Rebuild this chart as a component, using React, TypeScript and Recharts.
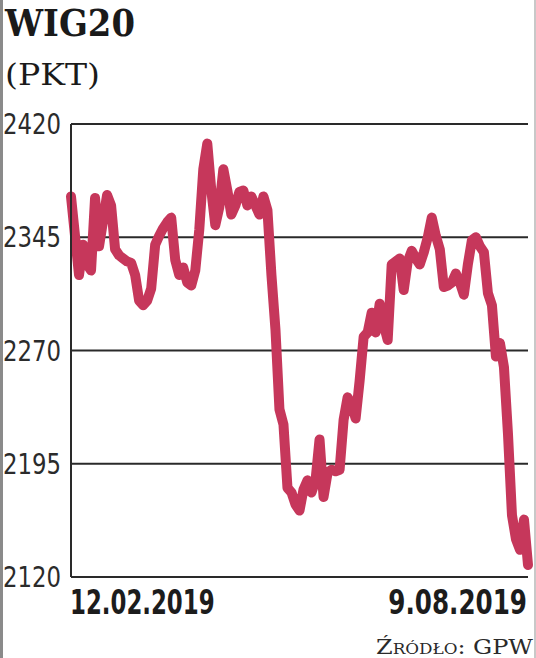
import { LineChart, Line, XAxis, YAxis, CartesianGrid } from "recharts";

document.body.style.margin = "0";

// WIG20 closing levels (pkt), sessions 12.02.2019 – 9.08.2019
const wig20 = [
  2372, 2346, 2320, 2340, 2327, 2323, 2371, 2339, 2356, 2373,
  2366, 2337, 2333, 2331, 2329, 2328, 2320, 2303, 2300, 2303,
  2311, 2340, 2346, 2351, 2355, 2358, 2330, 2320, 2325, 2315,
  2313, 2323, 2350, 2390, 2407, 2376, 2353, 2365, 2390, 2376,
  2360, 2366, 2375, 2376, 2366, 2372, 2366, 2360, 2372, 2363,
  2320, 2284, 2231, 2221, 2179, 2176, 2168, 2164, 2178, 2184,
  2176, 2184, 2211, 2173, 2189, 2191, 2190, 2191, 2224, 2239,
  2234, 2225, 2250, 2279, 2282, 2295, 2282, 2301, 2287, 2277,
  2327, 2329, 2331, 2310, 2329, 2336, 2331, 2327, 2335, 2345,
  2358, 2346, 2337, 2312, 2313, 2315, 2321, 2315, 2307, 2327,
  2343, 2345, 2339, 2335, 2308, 2300, 2266, 2275, 2259, 2215,
  2161, 2145, 2138, 2158, 2128,
];

const yTicks = [2120, 2195, 2270, 2345, 2420];
const dateLabels = ["12.02.2019", "9.08.2019"];

const data = wig20.map((v, i) => ({ i, v }));
const lastIdx = wig20.length - 1;

const YTick = (props: any) => {
  const { y, payload } = props;
  return (
    <text
      x={3}
      y={y + 10}
      textLength={58}
      lengthAdjust="spacingAndGlyphs"
      fontFamily="'DejaVu Sans Condensed', 'DejaVu Sans', sans-serif"
      fontSize={29}
      fill="#2b2b2b"
    >
      {payload.value}
    </text>
  );
};

const XTick = (props: any) => {
  const { payload } = props;
  const first = payload.value === 0;
  const label = first ? dateLabels[0] : dateLabels[1];
  const sx = first ? 0.77 : 0.83;
  return (
    <text
      transform={`translate(${first ? 70 : 527}, 614) scale(${sx}, 1)`}
      textAnchor={first ? "start" : "end"}
      fontFamily="'DejaVu Sans Condensed', 'DejaVu Sans', sans-serif"
      fontWeight={600}
      fontSize={33}
      fill="#1c1c1c"
    >
      {label}
    </text>
  );
};

export default function App() {
  return (
    <div style={{ position: "relative", width: 536, height: 658, background: "#fff" }}>
      <div style={{ position: "absolute", left: 0, top: 0, width: 3, height: 658, background: "#8a8a8a" }} />
      <div style={{ position: "absolute", left: 534, top: 0, width: 2, height: 658, background: "#c8c8c8" }} />
      <svg width={200} height={100} style={{ position: "absolute", left: 0, top: 0 }}>
        <text
          x={5}
          y={36}
          textLength={130}
          lengthAdjust="spacingAndGlyphs"
          fontFamily="'DejaVu Serif', serif"
          fontWeight={700}
          fontSize={38}
          fill="#1a1a1a"
        >
          WIG20
        </text>
        <text
          x={5}
          y={85}
          textLength={95}
          lengthAdjust="spacingAndGlyphs"
          fontFamily="'DejaVu Serif', serif"
          fontSize={30}
          fill="#1a1a1a"
        >
          (PKT)
        </text>
      </svg>
      <div style={{ position: "absolute", left: 0, top: 0 }}>
        <LineChart
          width={536}
          height={658}
          data={data}
          margin={{ top: 124, right: 8, bottom: 41, left: 0 }}
        >
          <CartesianGrid horizontal vertical={false} stroke="#2a2a2a" strokeWidth={2} />
          <XAxis
            dataKey="i"
            type="category"
            ticks={[0, lastIdx]}
            interval={0}
            height={40}
            axisLine={false}
            tickLine={false}
            tick={<XTick />}
          />
          <YAxis
            width={71}
            domain={[2120, 2420]}
            ticks={yTicks}
            interval={0}
            axisLine={{ stroke: "#2a2a2a", strokeWidth: 2 }}
            tickLine={false}
            tick={<YTick />}
          />
          <Line
            dataKey="v"
            type="linear"
            stroke="#c6375b"
            strokeWidth={10}
            strokeLinejoin="round"
            strokeLinecap="round"
            dot={false}
            isAnimationActive={false}
          />
        </LineChart>
      </div>
      <svg width={200} height={36} style={{ position: "absolute", left: 334, top: 622 }}>
        <text
          x={199}
          y={32}
          textAnchor="end"
          textLength={157}
          lengthAdjust="spacingAndGlyphs"
          fontFamily="'DejaVu Serif', serif"
          fontSize={20}
          fill="#2a2a2a"
          style={{ fontVariant: "small-caps" }}
        >
          Źródło: GPW
        </text>
      </svg>
    </div>
  );
}
